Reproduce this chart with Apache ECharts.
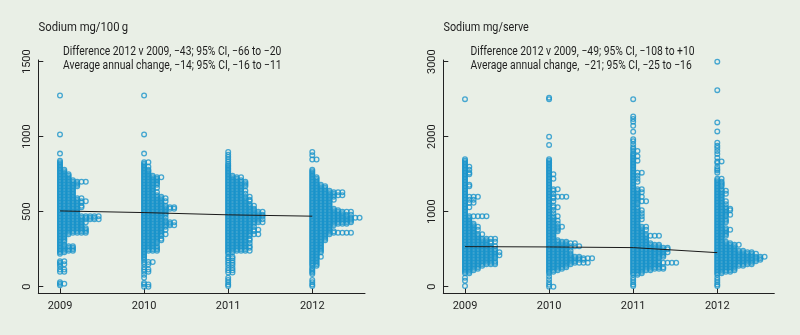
<!DOCTYPE html>
<html>
<head>
<meta charset="utf-8">
<script src="https://cdn.jsdelivr.net/npm/echarts@6/dist/echarts.min.js"></script>
<style>
  html, body { margin: 0; padding: 0; background: #e9efe6; }
  #chart { width: 800px; height: 335px; }
</style>
</head>
<body>
<div id="chart"></div>
<script>
// Sodium content of products by survey year, drawn as one-sided dot plots.
// Each row is [sodium value, number of products at that value].
const years = [2009, 2010, 2011, 2012];

const per100g2009 = [
  [1274,1],[1015,1],[887,1],
  [840,1],[830,1],[820,1],[810,1],[800,1],[790,1],[780,2],[770,2],[760,2],[750,3],[740,3],[730,3],[720,3],[710,4],
  [700,7],[690,5],[680,5],[670,5],[660,4],[650,4],[640,4],[630,4],[620,4],[610,4],[600,4],[590,6],[580,5],[570,7],
  [560,6],[550,5],[540,6],[530,6],[520,5],[510,5],[500,5],[490,5],[480,5],[470,10],[460,9],[450,10],[440,6],[430,7],
  [420,6],[410,6],[400,6],[390,7],[380,7],[370,7],[360,7],[350,3],[340,2],[330,2],[320,2],[310,2],[300,2],[290,1],
  [280,2],[270,4],[260,4],[250,4],[240,4],[230,2],[220,1],
  [170,2],[160,1],[150,2],[135,1],[115,2],[100,2],[30,1],[20,2],[10,1]
];
const per100g2010 = [
  [1274,1],[1015,1],[887,1],
  [830,2],[820,1],[810,1],[800,2],[790,1],[780,2],[770,2],[760,2],[750,2],[740,3],[730,5],[720,4],[710,4],[700,4],
  [690,4],[680,4],[670,3],[660,4],[650,3],[640,3],[630,4],[620,3],[610,4],[600,5],[590,6],[580,5],[570,6],[560,5],
  [550,5],[540,6],[530,8],[520,8],[510,6],[500,6],[490,6],[480,6],[470,5],[460,6],[450,5],[440,6],[430,8],[420,7],
  [410,8],[400,6],[390,5],[380,6],[370,5],[360,5],[350,6],[340,5],[330,4],[320,5],[310,5],[300,4],[290,4],[280,3],
  [270,4],[260,4],[250,4],[240,4],[230,1],[220,1],[210,1],[200,1],[190,1],[180,1],
  [165,3],[150,2],[130,1],[115,2],[100,2],[80,1],[60,1],[25,1],[15,2],[0,2]
];
const per100g2011 = [
  [898,1],[880,1],[865,1],[850,1],[835,1],[820,1],[810,1],[800,1],[790,1],[780,1],[770,1],[760,1],[750,1],[740,2],
  [730,4],[720,3],[710,4],[700,5],[690,5],[680,5],[670,5],[660,4],[650,4],[640,5],[630,4],[620,5],[610,4],[600,6],
  [590,5],[580,6],[570,6],[560,5],[550,6],[540,7],[530,6],[520,7],[510,7],[500,9],[490,8],[480,9],[470,9],[460,8],
  [450,9],[440,8],[430,9],[420,7],[410,6],[400,7],[390,6],[380,8],[370,7],[360,6],[350,8],[340,6],[330,5],[320,6],
  [310,6],[300,5],[290,6],[280,5],[270,6],[260,6],[250,5],[240,6],[230,2],[220,1],
  [200,2],[190,2],[175,2],[160,2],[145,2],[125,2],[110,2],[95,2],[60,1],[45,1],[30,1],[15,1],[5,1]
];
const per100g2012 = [
  [898,1],[876,1],[848,2],
  [780,1],[770,1],[760,1],[750,1],[740,1],[730,2],[720,2],[710,2],[700,2],[690,2],[680,3],[670,4],[660,4],[650,4],
  [640,5],[630,8],[620,6],[610,8],[600,6],[590,5],[580,6],[570,5],[560,5],[550,5],[540,5],[530,5],[520,6],[510,7],
  [500,10],[490,8],[480,10],[470,9],[460,12],[450,10],[440,10],[430,10],[420,9],[410,6],[400,5],[390,5],[380,5],
  [370,6],[360,10],[350,5],[340,4],[330,4],[320,4],[310,4],[300,3],[290,3],[280,3],[270,3],[260,3],[250,3],[240,3],
  [230,3],[220,2],[210,2],[200,3],[190,2],[180,2],[170,2],[160,2],[150,2],[140,2],
  [125,1],[115,1],[105,1],[95,1],[85,1],[45,1],[30,1],[15,1],[5,1]
];

const perServe2009 = [
  [2500,1],
  [1700,1],[1680,1],[1660,1],[1640,1],[1620,1],[1600,2],[1580,1],[1560,2],[1540,1],[1520,2],[1500,2],[1480,1],
  [1460,1],[1440,1],[1420,1],[1400,1],[1380,1],[1360,2],[1340,2],[1320,1],[1300,1],[1280,1],[1260,1],[1240,1],
  [1220,1],[1200,4],[1180,1],[1160,3],[1140,1],[1120,3],[1100,1],[1080,1],[1060,2],[1040,1],[1020,1],[1000,1],
  [980,1],[960,1],[940,6],[920,2],[900,2],[880,2],[860,2],[840,3],[820,3],[800,4],[780,3],[760,4],[740,3],[720,3],
  [700,5],[680,4],[660,4],[640,8],[620,6],[600,8],[580,7],[560,6],[540,8],[520,7],[500,8],[480,8],[460,9],[440,8],
  [420,9],[400,8],[380,8],[360,7],[340,8],[320,8],[300,8],[280,5],[260,4],[240,4],[220,3],[200,2],[180,2],
  [120,1],[80,1],[10,1]
];
const perServe2010 = [
  [2520,1],[2500,1],[2000,1],[1890,1],
  [1700,1],[1680,1],[1660,1],[1640,1],[1620,1],[1600,1],[1580,1],[1560,1],[1540,1],[1520,1],[1500,2],[1480,1],
  [1460,1],[1440,2],[1420,1],[1400,1],[1380,1],[1360,1],[1340,1],[1320,1],[1300,3],[1280,2],[1260,1],[1240,2],
  [1220,1],[1200,5],[1180,2],[1160,1],[1140,2],[1120,1],[1100,1],[1080,2],[1060,3],[1040,1],[1020,2],[1000,1],
  [980,2],[960,1],[940,3],[920,2],[900,2],[880,3],[860,2],[840,3],[820,2],[800,4],[780,3],[760,3],[740,3],[720,2],
  [700,2],[680,2],[660,2],[640,2],[620,3],[600,5],[580,7],[560,5],[540,8],[520,6],[500,5],[480,6],[460,5],[440,6],
  [420,6],[400,8],[380,11],[360,9],[340,7],[320,10],[300,6],[280,5],[260,5],[240,4],[220,3],[200,2],[180,1],
  [140,1],[100,1],[60,1],[25,1],[0,2]
];
const perServe2011 = [
  [2500,1],[2270,1],[2235,1],[2200,1],[2145,1],[2065,1],[1965,1],[1940,1],[1900,1],[1860,1],[1835,1],
  [1810,2],[1780,1],[1760,1],[1740,2],[1720,1],[1700,1],[1680,2],[1660,1],[1640,1],[1620,1],[1600,1],[1580,1],
  [1560,1],[1540,1],[1520,3],[1500,1],[1480,2],[1460,1],[1440,2],[1420,1],[1400,2],[1380,1],[1360,1],[1340,1],
  [1320,1],[1300,3],[1280,2],[1260,3],[1240,2],[1220,2],[1200,3],[1180,2],[1160,2],[1140,4],[1120,2],[1100,2],
  [1080,1],[1060,2],[1040,2],[1020,3],[1000,2],[980,3],[960,2],[940,3],[920,2],[900,3],[880,2],[860,2],[840,2],
  [820,2],[800,4],[780,3],[760,4],[740,3],[720,3],[700,4],[680,7],[660,4],[640,4],[620,4],[600,4],[580,5],[560,7],
  [540,7],[520,9],[500,9],[480,8],[460,9],[440,8],[420,8],[400,8],[380,7],[360,6],[340,7],[320,11],[300,7],[280,7],
  [260,8],[240,8],[220,5],[200,3],[180,3],[160,2],
  [120,1],[90,1],[60,1],[30,1],[10,1]
];
const perServe2012 = [
  [3000,1],[2620,1],[2190,1],[2070,1],[1920,1],[1880,1],[1850,1],[1810,1],[1770,1],[1720,1],[1670,2],[1650,1],
  [1600,1],[1570,1],[1550,1],[1520,1],
  [1440,2],[1420,1],[1400,2],[1380,2],[1360,2],[1340,2],[1320,1],[1300,2],[1280,3],[1260,2],[1240,3],[1220,2],
  [1200,2],[1180,2],[1160,2],[1140,3],[1120,2],[1100,3],[1080,2],[1060,3],[1040,4],[1020,4],[1000,3],[980,3],
  [960,4],[940,3],[920,2],[900,3],[880,3],[860,3],[840,2],[820,2],[800,2],[780,3],[760,4],[740,3],[720,3],[700,3],
  [680,3],[660,2],[640,2],[620,2],[600,3],[580,4],[560,6],[540,5],[520,5],[500,5],[480,7],[460,9],[440,10],[420,9],
  [400,12],[380,11],[360,11],[340,10],[320,9],[300,9],[280,7],[260,5],[240,5],[220,5],[200,4],[180,2],[160,1],
  [120,1],[90,1],[60,1],[30,1],[10,1]
];

// Yearly mean values joined by the trend line
const meanPer100g = [505, 494, 479, 470];
const meanPerServe = [534, 530, 521, 454];

const yTicksPer100g = [0, 500, 1000, 1500];
const yTicksPerServe = [0, 1000, 2000, 3000];

const titlePer100g = 'Sodium mg/100\u2009g';
const titlePerServe = 'Sodium mg/serve';
const notePer100g = [
  'Difference 2012 v 2009, \u221243; 95% CI, \u221266 to \u221220',
  'Average annual change, \u221214; 95% CI, \u221216 to \u221211'
];
const notePerServe = [
  'Difference 2012 v 2009, \u221249; 95% CI, \u2212108 to +10',
  'Average annual change,  \u221221; 95% CI, \u221225 to \u221216'
];

const DOT_STEP = 4.3;          // horizontal pixel spacing between stacked dots
const DOT_COLOR = '#1a94cb';
const FONT = 'Roboto, "Noto Sans", sans-serif';
const TEXT = '#1e1e1e';

function dots(rowsByYear) {
  const out = [];
  rowsByYear.forEach((rows, k) => {
    rows.forEach(([v, n]) => {
      for (let i = 0; i < n; i++) {
        out.push({ value: [years[k], v], symbolOffset: [i * DOT_STEP, 0] });
      }
    });
  });
  return out;
}

function xAxisCfg(gridIndex, max) {
  return {
    gridIndex, type: 'value', min: 2008.742, max,
    axisLine: { show: true, onZero: false, lineStyle: { color: '#222', width: 1 } },
    axisTick: { show: true, inside: true, length: 5, customValues: years, lineStyle: { color: '#222' } },
    axisLabel: { show: true, customValues: years, margin: 7, color: TEXT, fontFamily: FONT, fontSize: 11,
      formatter: v => String(Math.round(v)) },
    splitLine: { show: false }
  };
}
function yAxisCfg(gridIndex, min, max, ticks) {
  return {
    gridIndex, type: 'value', min, max,
    axisLine: { show: true, onZero: false, lineStyle: { color: '#222', width: 1 } },
    axisTick: { show: true, inside: true, length: 5, customValues: ticks, lineStyle: { color: '#222' } },
    axisLabel: { show: true, customValues: ticks, rotate: 90, margin: 6, color: TEXT, fontFamily: FONT, fontSize: 11,
      formatter: v => String(Math.round(v)) },
    splitLine: { show: false }
  };
}

// Condensed caption text: horizontally squeezed real text
function caption(text, x, y, squeeze) {
  return {
    type: 'text', x, y, scaleX: squeeze, silent: true,
    style: { text, fill: TEXT, fontFamily: FONT, fontSize: 12, verticalAlign: 'middle', align: 'left' }
  };
}

const chart = echarts.init(document.getElementById('chart'), null, { renderer: 'canvas' });
chart.setOption({
  backgroundColor: '#e9efe6',
  animation: false,
  graphic: [
    caption(titlePer100g, 38.5, 28, 0.94),
    caption(notePer100g[0], 63, 52, 0.86),
    caption(notePer100g[1], 63, 66, 0.86),
    caption(titlePerServe, 443.5, 28, 0.9),
    caption(notePerServe[0], 470.5, 52, 0.86),
    caption(notePerServe[1], 470.5, 66, 0.86)
  ],
  grid: [
    { left: 38.3, top: 60, width: 326.7, height: 233.3 },
    { left: 443.3, top: 60, width: 331, height: 233.3 }
  ],
  xAxis: [xAxisCfg(0, 2012.627), xAxisCfg(1, 2012.678)],
  yAxis: [yAxisCfg(0, -44, 1511, yTicksPer100g), yAxisCfg(1, -88, 3022, yTicksPerServe)],
  series: [
    {
      type: 'scatter', xAxisIndex: 0, yAxisIndex: 0, silent: true,
      symbol: 'circle', symbolSize: 4.7,
      itemStyle: { color: 'rgba(0,0,0,0)', borderColor: DOT_COLOR, borderWidth: 1.3 },
      data: dots([per100g2009, per100g2010, per100g2011, per100g2012])
    },
    {
      type: 'scatter', xAxisIndex: 1, yAxisIndex: 1, silent: true,
      symbol: 'circle', symbolSize: 4.7,
      itemStyle: { color: 'rgba(0,0,0,0)', borderColor: DOT_COLOR, borderWidth: 1.3 },
      data: dots([perServe2009, perServe2010, perServe2011, perServe2012])
    },
    {
      type: 'line', xAxisIndex: 0, yAxisIndex: 0, silent: true, symbol: 'none',
      lineStyle: { color: '#1a1a1a', width: 1 }, z: 5,
      data: years.map((y, i) => [y, meanPer100g[i]])
    },
    {
      type: 'line', xAxisIndex: 1, yAxisIndex: 1, silent: true, symbol: 'none',
      lineStyle: { color: '#1a1a1a', width: 1 }, z: 5,
      data: years.map((y, i) => [y, meanPerServe[i]])
    }
  ]
});
</script>
</body>
</html>
